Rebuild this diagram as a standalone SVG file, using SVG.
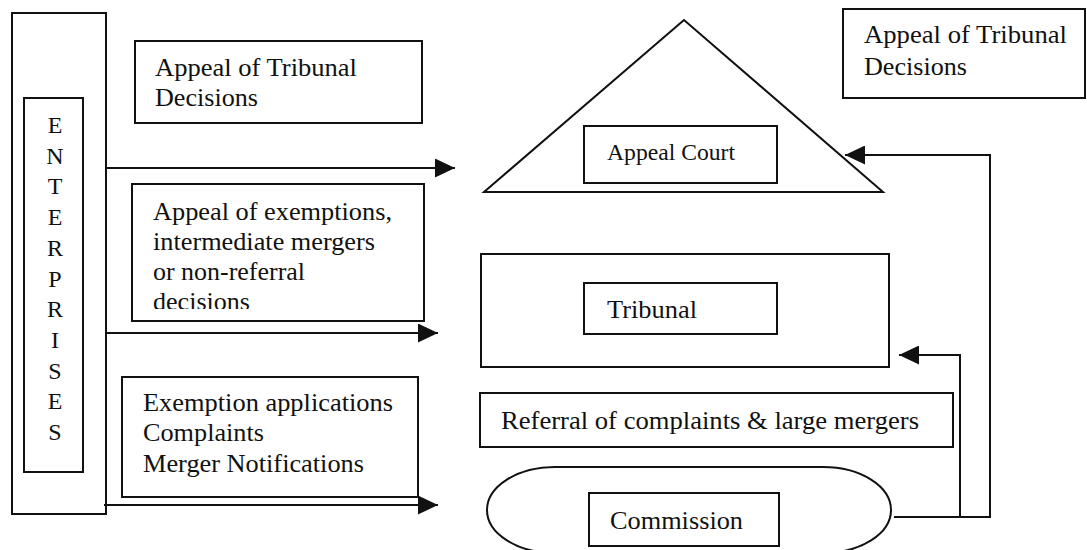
<svg xmlns="http://www.w3.org/2000/svg" width="1087" height="550" viewBox="0 0 1087 550">
<style>
.box{fill:none;stroke:#111;stroke-width:2}
.t{font-family:'Liberation Serif','Times New Roman',Times,serif;font-size:26px;fill:#111}
.s{font-family:'Liberation Serif','Times New Roman',Times,serif;font-size:24px;fill:#111;text-anchor:middle}
.c{fill:none;stroke:#111;stroke-width:2}
</style>
<defs>
<marker id="ah" markerUnits="userSpaceOnUse" markerWidth="20" markerHeight="19" refX="20" refY="9.5" orient="auto">
<path d="M0,0 L20,9.5 L0,19 z" fill="#111"/>
</marker>
<clipPath id="clip2"><rect x="132" y="184" width="292" height="125"/></clipPath>
</defs>
<rect width="1087" height="550" fill="#fff"/>

<g id="enterprises">
<rect class="box" x="12" y="13" width="94" height="501"/>
<rect class="box" x="24" y="98" width="59" height="374"/>
<text class="s" x="55" y="133">E</text>
<text class="s" x="55" y="163.7">N</text>
<text class="s" x="55" y="194.4">T</text>
<text class="s" x="55" y="225.1">E</text>
<text class="s" x="55" y="255.8">R</text>
<text class="s" x="55" y="286.5">P</text>
<text class="s" x="55" y="317.2">R</text>
<text class="s" x="55" y="347.9">I</text>
<text class="s" x="55" y="378.6">S</text>
<text class="s" x="55" y="409.3">E</text>
<text class="s" x="55" y="440">S</text>
</g>

<g id="label-appeal-left">
<rect class="box" x="135" y="41" width="287" height="82"/>
<text class="t" x="155" y="76" textLength="202" lengthAdjust="spacingAndGlyphs">Appeal of Tribunal</text>
<text class="t" x="155" y="106" textLength="103" lengthAdjust="spacingAndGlyphs">Decisions</text>
</g>

<g id="label-exemptions">
<rect class="box" x="132" y="184" width="292" height="137"/>
<g clip-path="url(#clip2)">
<text class="t" x="153" y="220" textLength="239" lengthAdjust="spacingAndGlyphs">Appeal of exemptions,</text>
<text class="t" x="153" y="250" textLength="222" lengthAdjust="spacingAndGlyphs">intermediate mergers</text>
<text class="t" x="153" y="280" textLength="152" lengthAdjust="spacingAndGlyphs">or non-referral</text>
<text class="t" x="153" y="310" textLength="97" lengthAdjust="spacingAndGlyphs">decisions</text>
</g>
</g>

<g id="label-applications">
<rect class="box" x="122" y="377" width="296" height="120"/>
<text class="t" x="143" y="411" textLength="250" lengthAdjust="spacingAndGlyphs">Exemption applications</text>
<text class="t" x="143" y="441" textLength="121" lengthAdjust="spacingAndGlyphs">Complaints</text>
<text class="t" x="143" y="472" textLength="221" lengthAdjust="spacingAndGlyphs">Merger Notifications</text>
</g>

<g id="appeal-court">
<polygon class="box" points="684,20 484,192 883,192"/>
<rect class="box" x="584" y="126" width="193" height="57"/>
<text class="t" x="607" y="160" style="font-size:24px" textLength="128" lengthAdjust="spacingAndGlyphs">Appeal Court</text>
</g>

<g id="label-appeal-right">
<rect class="box" x="843" y="9" width="242" height="89"/>
<text class="t" x="864" y="43" textLength="203" lengthAdjust="spacingAndGlyphs">Appeal of Tribunal</text>
<text class="t" x="864" y="75" textLength="103" lengthAdjust="spacingAndGlyphs">Decisions</text>
</g>

<g id="tribunal">
<rect class="box" x="481" y="254" width="408" height="113"/>
<rect class="box" x="584" y="283" width="193" height="51"/>
<text class="t" x="607" y="318" textLength="90" lengthAdjust="spacingAndGlyphs">Tribunal</text>
</g>

<g id="label-referral">
<rect class="box" x="480" y="393" width="473" height="54"/>
<text class="t" x="501" y="429" textLength="418" lengthAdjust="spacingAndGlyphs">Referral of complaints &amp; large mergers</text>
</g>

<g id="commission">
<rect class="box" x="487" y="467" width="404" height="86" rx="68" ry="43"/>
<rect class="box" x="589" y="493" width="190" height="53"/>
<text class="t" x="610" y="529" textLength="133" lengthAdjust="spacingAndGlyphs">Commission</text>
</g>

<g id="connectors">
<line class="c" x1="106" y1="168" x2="455" y2="168" marker-end="url(#ah)"/>
<line class="c" x1="106" y1="333" x2="438" y2="333" marker-end="url(#ah)"/>
<line class="c" x1="104" y1="505" x2="438" y2="505" marker-end="url(#ah)"/>
<path class="c" d="M894,517 H990 V155 H845" marker-end="url(#ah)"/>
<path class="c" d="M960,517 V355 H899" marker-end="url(#ah)"/>
</g>
</svg>
